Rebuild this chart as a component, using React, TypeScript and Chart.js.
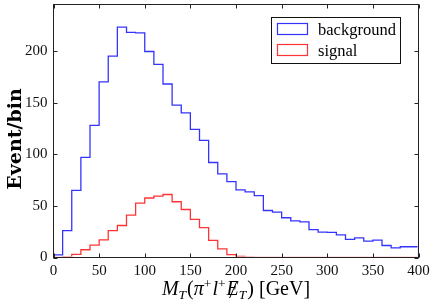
import React, { useEffect, useRef } from "react";
import { Chart, registerables } from "chart.js";

Chart.register(...registerables);

// ---- data ----
const binStart = 0;
const binWidth = 10;
const binEnd = 400;
const background = [
  2.5, 26, 65, 97, 128, 170, 195, 223, 218, 217.5,
  199.5, 187, 168, 147.5, 140, 124, 113.5, 92, 81, 73.5,
  65.5, 63.5, 60, 45.5, 44, 38.5, 35.5, 34.5, 27, 24.5,
  24.3, 22, 17.5, 19, 15.8, 16.8, 11.6, 9.4, 10.4, 10.4,
];
const signal = [
  0, 0.7, 3, 7.5, 12, 17, 26, 31, 41, 52.7,
  57.6, 59.5, 61, 54, 46.5, 37, 29, 16.5, 8.4, 2.8,
  1, 0.4, 0, 0, 0, 0, 0, 0, 0, 0,
  0, 0, 0, 0, 0, 0, 0, 0, 0, 0,
];
const seriesNames = ["background", "signal"];
const seriesColors = ["rgba(0,0,255,0.8)", "rgba(255,0,0,0.8)"];
const xTicks = [0, 50, 100, 150, 200, 250, 300, 350, 400];
const yTicks = [0, 50, 100, 150, 200];
const yMax = 245;
const yTitle = "Event/bin";

function stepPoints(values: number[]) {
  const pts: { x: number; y: number }[] = [{ x: binStart, y: 0 }];
  values.forEach((v, i) => pts.push({ x: binStart + i * binWidth, y: v }));
  pts.push({ x: binEnd, y: values[values.length - 1] });
  pts.push({ x: binEnd, y: 0 });
  return pts;
}

const SERIF = "'Liberation Serif', 'Times New Roman', serif";

const decorPlugin = {
  id: "decor",
  afterDatasetsDraw(chart: any) {
    const ctx: CanvasRenderingContext2D = chart.ctx;
    const { left, right, top, bottom } = chart.chartArea;
    const xs = chart.scales.x;
    const ys = chart.scales.y;
    ctx.save();
    // frame
    ctx.strokeStyle = "#222";
    ctx.lineWidth = 1;
    ctx.strokeRect(left, top, right - left, bottom - top);
    // inward ticks
    const tl = 4;
    ctx.beginPath();
    xTicks.forEach((v) => {
      const px = Math.round(xs.getPixelForValue(v)) + 0.5;
      ctx.moveTo(px, bottom);
      ctx.lineTo(px, bottom - tl);
      ctx.moveTo(px, top);
      ctx.lineTo(px, top + tl);
    });
    yTicks.forEach((v) => {
      const py = Math.round(ys.getPixelForValue(v)) + 0.5;
      ctx.moveTo(left, py);
      ctx.lineTo(left + tl, py);
      ctx.moveTo(right, py);
      ctx.lineTo(right - tl, py);
    });
    ctx.stroke();

    // legend
    ctx.fillStyle = "#fff";
    ctx.fillRect(271.5, 17.5, 129, 46);
    ctx.strokeStyle = "#111";
    ctx.strokeRect(271.5, 17.5, 129, 46);
    ctx.font = `16.5px ${SERIF}`;
    ctx.textAlign = "left";
    ctx.textBaseline = "alphabetic";
    seriesNames.forEach((name, i) => {
      const y0 = 23.5 + i * 21;
      ctx.strokeStyle = seriesColors[i];
      ctx.lineWidth = 1.2;
      ctx.strokeRect(277.5, y0, 30, 11);
      ctx.fillStyle = "#000";
      ctx.fillText(name, 318, 34.5 + i * 21);
    });

    // y title
    ctx.save();
    ctx.translate(21, 139);
    ctx.rotate(-Math.PI / 2);
    ctx.font = `bold 19px 'DejaVu Serif', serif`;
    ctx.textAlign = "center";
    ctx.fillStyle = "#000";
    ctx.fillText(yTitle, 0, 0);
    ctx.restore();

    // x title: M_T(π^+ l^+ E̸_T) [GeV]
    const big = 20;
    const small = 13.5;
    const base = 295;
    type Piece = { t: string; italic: boolean; size: number; dy: number; slash?: boolean; gap?: number };
    const pieces: Piece[] = [
      { t: "M", italic: true, size: big, dy: 0 },
      { t: "T", italic: true, size: small, dy: 4 },
      { t: "(", italic: false, size: big, dy: 0, gap: 1 },
      { t: "π", italic: true, size: big, dy: 0 },
      { t: "+", italic: false, size: small, dy: -7 },
      { t: "l", italic: true, size: big, dy: 0, gap: 1 },
      { t: "+", italic: false, size: small, dy: -7 },
      { t: "E", italic: true, size: big, dy: 0, slash: true, gap: 1 },
      { t: "T", italic: true, size: small, dy: 4 },
      { t: ")", italic: false, size: big, dy: 0, gap: 1 },
      { t: " [GeV]", italic: false, size: big, dy: 0 },
    ];
    const fontOf = (p: Piece) => `${p.italic ? "italic " : ""}${p.size}px ${SERIF}`;
    let total = 0;
    pieces.forEach((p) => {
      ctx.font = fontOf(p);
      total += ctx.measureText(p.t).width + (p.gap || 0);
    });
    let x = (left + right) / 2 - total / 2;
    ctx.fillStyle = "#000";
    ctx.textAlign = "left";
    pieces.forEach((p) => {
      ctx.font = fontOf(p);
      x += p.gap || 0;
      const w = ctx.measureText(p.t).width;
      ctx.fillText(p.t, x, base + p.dy);
      if (p.slash) {
        ctx.strokeStyle = "#000";
        ctx.lineWidth = 1;
        ctx.beginPath();
        ctx.moveTo(x + w * 0.25, base + 3);
        ctx.lineTo(x + w * 0.85, base - 14);
        ctx.stroke();
      }
      x += w;
    });
    ctx.restore();
  },
};

export default function App() {
  const ref = useRef<HTMLCanvasElement | null>(null);
  useEffect(() => {
    document.body.style.margin = "0";
    if (!ref.current) return;
    const tickFont = { family: SERIF, size: 15 };
    const clip = { left: -1, top: 0, right: -1, bottom: -1 };
    const chart = new Chart(ref.current, {
      type: "line",
      data: {
        datasets: [
          {
            label: seriesNames[0],
            data: stepPoints(background),
            borderColor: seriesColors[0],
            borderWidth: 1.3,
            stepped: "before",
            pointRadius: 0,
            fill: false,
            clip,
          },
          {
            label: seriesNames[1],
            data: stepPoints(signal),
            borderColor: seriesColors[1],
            borderWidth: 1.3,
            stepped: "before",
            pointRadius: 0,
            fill: false,
            clip,
          },
        ],
      },
      options: {
        responsive: false,
        animation: false,
        layout: { padding: { top: 4.5, right: 17.5, left: 0, bottom: 0 } },
        plugins: { legend: { display: false }, tooltip: { enabled: false } },
        scales: {
          x: {
            type: "linear",
            min: binStart,
            max: binEnd,
            grid: { display: false, drawTicks: false },
            border: { display: false },
            ticks: { font: tickFont, color: "#111", padding: 5, maxRotation: 0, autoSkip: false },
            afterBuildTicks: (s: any) => {
              s.ticks = xTicks.map((v) => ({ value: v }));
            },
            afterFit: (s: any) => {
              s.height = 50.5;
              s.paddingLeft = 0;
              s.paddingRight = 0;
            },
          },
          y: {
            type: "linear",
            min: 0,
            max: yMax,
            grid: { display: false, drawTicks: false },
            border: { display: false },
            ticks: { font: tickFont, color: "#111", padding: 6, autoSkip: false },
            afterBuildTicks: (s: any) => {
              s.ticks = yTicks.map((v) => ({ value: v }));
            },
            afterFit: (s: any) => {
              s.width = 53.5;
              s.paddingTop = 0;
              s.paddingBottom = 0;
            },
          },
        },
      } as any,
      plugins: [decorPlugin],
    });
    return () => chart.destroy();
  }, []);
  return <canvas ref={ref} width={436} height={308} style={{ display: "block", width: 436, height: 308 }} />;
}
